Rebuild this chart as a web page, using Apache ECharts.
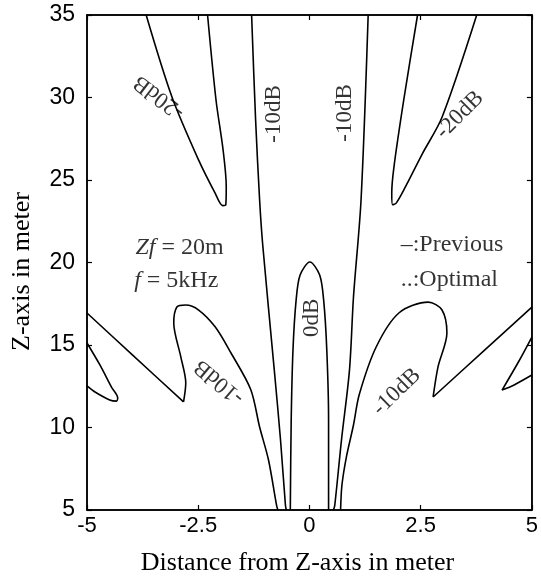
<!DOCTYPE html>
<html><head><meta charset="utf-8">
<script src="https://cdn.jsdelivr.net/npm/echarts@6/dist/echarts.min.js"></script>
<style>html,body{margin:0;padding:0;background:#fff}#c{width:541px;height:587px}</style>
</head><body><div id="c"></div>
<script>
// axis ticks
const xTicks = [-5, -2.5, 0, 2.5, 5];
const yTicks = [5, 10, 15, 20, 25, 30, 35];

// contour lines, points as [distance (m), Z (m)]
const minus20Left = [[-3.67,35],[-3.09,30.03],[-2.49,26.2],[-2.12,24.2],[-1.95,23.45],[-1.88,23.5],[-1.87,24.6],[-1.94,26.8],[-2.10,29.85],[-2.29,35]];
const minus20Right = [[2.43,35],[2.12,29.85],[1.90,25.8],[1.85,24.2],[1.87,23.5],[1.95,23.6],[2.16,24.6],[2.54,26.6],[2.98,28.8],[3.76,35]];
const minus10VertLeft = [[-1.30,35],[-1.21,28.64],[-1.12,23.79],[-1.05,21.06],[-0.79,13.48],[-0.65,9.24],[-0.54,5.3],[-0.52,5]];
const minus10VertRight = [[1.32,35],[1.16,23.79],[0.99,17.91],[0.90,13.48],[0.72,9.24],[0.57,5.3],[0.54,5]];
const zeroDbLobe = [[-0.43,5],[-0.41,10.45],[-0.37,14.7],[-0.30,17.7],[-0.21,19.24],[0.01,20.03],[0.23,19.24],[0.32,17.7],[0.39,14.7],[0.43,10.45],[0.43,5]];
const minus10EdgeLeft = [[-5,16.94],[-3.98,14.4],[-2.83,11.55]];
const minus10LobeLeft = [[-2.83,11.55],[-2.78,12.7],[-2.89,14.27],[-3.05,16.33],[-2.98,17.3],[-2.78,17.42],[-2.49,17.12],[-2.12,16.1],[-1.76,14.5],[-1.32,12.3],[-1.12,10.03],[-0.92,8.03],[-0.74,5.3],[-0.71,5]];
const minus10SmallLeft = [[-5,15.12],[-4.71,13.79],[-4.45,12.45],[-4.31,11.79],[-4.34,11.6],[-4.49,11.67],[-4.82,12.15],[-5,12.52]];
const minus10LobeRight = [[0.70,5],[0.73,6.5],[0.83,8.21],[0.99,10.15],[1.12,12.0],[1.50,14.88],[2.01,16.94],[2.67,17.6],[2.98,17.12],[3.09,15.73],[2.89,13.67],[2.78,11.85]];
const minus10EdgeRight = [[2.78,11.85],[3.9,14.6],[5,17.3]];
const minus10SmallRight = [[5,15.48],[4.71,14.03],[4.33,12.27],[4.60,12.58],[5,13.18]];

// contour labels
const contourLabels = ['-20dB', '-10dB', '-10dB', '-20dB', '0dB', '-10dB', '-10dB'];
const contourLabelPos = [[-3.38,30.03],[-0.79,29.0],[0.79,29.06],[3.38,28.94],[0.06,16.64],[-2.03,12.76],[1.96,12.15]];
const contourLabelAngle = [143, 90, 90, 45, 90, 140, 44];

// annotations
const noteTexts = ['{i|Zf} = 20m', '{i|f} = 5kHz', '\u2013:Previous', '..:Optimal'];
const notePos = [[-3.91,20.88],[-3.94,18.88],[2.05,21.06],[2.05,18.94]];

const contours = [minus20Left, minus20Right, minus10VertLeft, minus10VertRight, zeroDbLobe,
  minus10EdgeLeft, minus10LobeLeft, minus10SmallLeft, minus10LobeRight, minus10EdgeRight, minus10SmallRight];

const serif = '"Liberation Serif", "Times New Roman", serif';
const sans = '"Liberation Sans", Arial, sans-serif';

const chart = echarts.init(document.getElementById('c'), null, {renderer: 'canvas'});

const series = contours.map(c => ({
  type: 'line', data: c, showSymbol: false, symbol: 'none', smooth: 0.3,
  lineStyle: {color: '#000', width: 1.6}, silent: true, animation: false, z: 3
}));

series.push({
  type: 'scatter', symbolSize: 0, silent: true, animation: false, z: 5,
  data: contourLabels.map((t, i) => ({
    value: contourLabelPos[i],
    label: {show: true, formatter: t, rotate: contourLabelAngle[i], position: 'inside',
      fontFamily: serif, fontSize: 23, color: '#000', align: 'center', verticalAlign: 'middle'}
  }))
});

series.push({
  type: 'scatter', symbolSize: 0, silent: true, animation: false, z: 5,
  data: noteTexts.map((t, i) => ({
    value: notePos[i],
    label: {show: true, formatter: t, position: 'right', distance: 0,
      fontFamily: serif, fontSize: 24, color: '#000', verticalAlign: 'middle',
      rich: {i: {fontStyle: 'italic', fontFamily: serif, fontSize: 24, color: '#000'}}}
  }))
});

const tickCommon = {show: true, inside: true, length: 5, lineStyle: {color: '#000', width: 1.2}};
const lineCommon = {show: true, onZero: false, lineStyle: {color: '#000', width: 1.5}};

chart.setOption({
  animation: false,
  backgroundColor: '#fff',
  grid: {left: 87, right: 3, top: 15, bottom: 77, show: true, borderColor: '#000', borderWidth: 1.5, backgroundColor: 'transparent'},
  xAxis: [{
    type: 'value', min: xTicks[0], max: xTicks[xTicks.length - 1], interval: 2.5,
    name: 'Distance from Z-axis in meter', nameLocation: 'middle', nameGap: 40,
    nameTextStyle: {fontFamily: serif, fontSize: 26, color: '#000', padding: [0, 24, 0, 0]},
    axisLine: lineCommon,
    axisTick: tickCommon,
    axisLabel: {show: true, margin: 5, fontFamily: sans, fontSize: 22, color: '#000', showMinLabel: true, showMaxLabel: true,
      formatter: v => String(v)},
    splitLine: {show: false}
  }, {
    type: 'value', position: 'top', min: xTicks[0], max: xTicks[xTicks.length - 1], interval: 2.5,
    axisLine: lineCommon, axisTick: tickCommon,
    axisLabel: {show: false}, splitLine: {show: false}
  }],
  yAxis: [{
    type: 'value', position: 'left', min: yTicks[0], max: yTicks[yTicks.length - 1], interval: 5,
    name: 'Z-axis in meter', nameLocation: 'middle', nameGap: 52,
    nameTextStyle: {fontFamily: serif, fontSize: 26, color: '#000', padding: [0, 18, 0, 0]},
    axisLine: lineCommon,
    axisTick: tickCommon,
    axisLabel: {show: true, margin: 12, fontFamily: sans, fontSize: 23, color: '#000', showMinLabel: true, showMaxLabel: true},
    splitLine: {show: false}
  }, {
    type: 'value', position: 'right', min: yTicks[0], max: yTicks[yTicks.length - 1], interval: 5,
    axisLine: lineCommon, axisTick: tickCommon,
    axisLabel: {show: false}, splitLine: {show: false}
  }],
  series: series
});
</script>
</body></html>
